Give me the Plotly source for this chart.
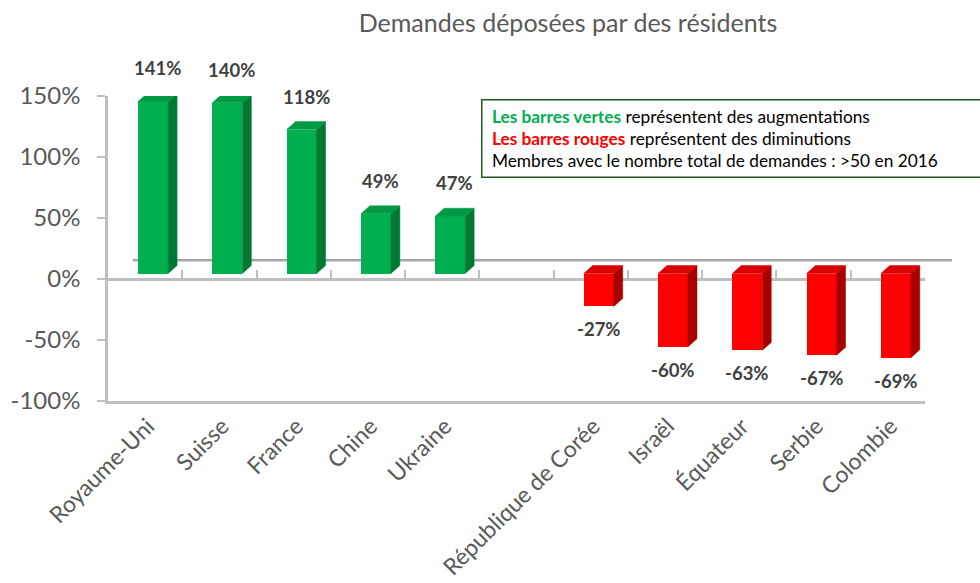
import plotly.graph_objects as go

categories = ["Royaume-Uni", "Suisse", "France", "Chine", "Ukraine",
              "République de Corée", "Israël", "Équateur", "Serbie", "Colombie"]
values = [141, 140, 118, 49, 47, -27, -60, -63, -67, -69]
y_ticks = [-100, -50, 0, 50, 100, 150]
y_ticktext = ["-100%", "-50%", "0%", "50%", "100%", "150%"]

FONT = "Lato"
GREEN, GREEN_SIDE, GREEN_TOP = "#00b050", "#007a33", "#009a44"
RED, RED_SIDE, RED_TOP = "#ff0000", "#a80000", "#d80000"
AXIS = "#bfbfbf"
TXT = "#595959"

# layout helpers (style, not data)
OFF = 0.107      # front face offset within category
W = 0.404        # front face width
DX = 0.121       # depth in x (category units)
DY = 6.5         # depth in y (percent units)
BASE = 4.5       # front-face base lift (3D perspective)
LBL = -0.07      # tick label offset

pos = [i if i < 5 else i + 1 for i in range(len(categories))]
centers = [p + OFF for p in pos]
front_cols = [GREEN if v >= 0 else RED for v in values]

fig = go.Figure()

def faces(sign):
    sx, sy, tx, ty = [], [], [], []
    for c, v in zip(centers, values):
        if (v >= 0) != sign:
            continue
        xl, xr = c - W / 2, c + W / 2
        y0, y1 = BASE, BASE + v
        sx += [xr, xr, xr + DX, xr + DX, xr, None]
        sy += [y0, y1, y1 + DY, y0 + DY, y0, None]
        yt = max(y0, y1)
        tx += [xl, xr, xr + DX, xl + DX, xl, None]
        ty += [yt, yt, yt + DY, yt + DY, yt, None]
    return sx, sy, tx, ty

for sign, sc, tc in [(True, GREEN_SIDE, GREEN_TOP), (False, RED_SIDE, RED_TOP)]:
    sx, sy, tx, ty = faces(sign)
    fig.add_trace(go.Scatter(x=sx, y=sy, mode="lines", fill="toself", fillcolor=sc,
                             line=dict(width=0.5, color=sc), hoverinfo="skip", showlegend=False))
    fig.add_trace(go.Scatter(x=tx, y=ty, mode="lines", fill="toself", fillcolor=tc,
                             line=dict(width=0.5, color=tc), hoverinfo="skip", showlegend=False))

fig.add_trace(go.Bar(x=centers, y=values, base=BASE, width=W,
                     marker=dict(color=front_cols, line=dict(width=0)),
                     showlegend=False, hovertext=categories))

fig.add_trace(go.Scatter(x=[None], y=[None], xaxis="x2", showlegend=False))

annotations = []
for c, v in zip(centers, values):
    if v >= 0:
        annotations.append(dict(x=c + DX / 2, y=BASE + v, xref="x", yref="y",
                                text=f"<b>{v}%</b>", showarrow=False, yanchor="bottom",
                                yshift=20, font=dict(family=FONT, size=18.5, color="#404040")))
    else:
        annotations.append(dict(x=c, y=BASE + v, xref="x", yref="y",
                                text=f"<b>{v}%</b>", showarrow=False, yanchor="top",
                                yshift=-10, font=dict(family=FONT, size=18.5, color="#404040")))

legend_text = ("&nbsp;<span style='color:#00b050'><b>Les barres vertes</b></span> représentent des augmentations<br>"
               "&nbsp;<span style='color:#ff0000'><b>Les barres rouges</b></span> représentent des diminutions<br>"
               "&nbsp;Membres avec le nombre total de demandes : >50 en 2016")
annotations.append(dict(x=(481 - 108) / 817, y=(401 - 99) / 305, xref="paper", yref="paper",
                        xanchor="left", yanchor="top", align="left", showarrow=False,
                        text=legend_text, bgcolor="white", bordercolor="#1e5a1e", borderwidth=1.5,
                        borderpad=5, width=500,
                        font=dict(family=FONT, size=17.3, color="#000000")))

shapes = [dict(type="line", xref="paper", yref="y", x0=25 / 817, x1=844 / 817,
               y0=15.3, y1=15.3, line=dict(color="#a6a6a6", width=2.5), layer="below")]

fig.update_layout(
    width=980, height=583,
    margin=dict(l=108, r=55, t=96, b=182),
    paper_bgcolor="white", plot_bgcolor="white",
    title=dict(text="Demandes déposées par des résidents", x=568 / 980, xanchor="center",
               y=1 - 23 / 583, yanchor="middle", yref="container",
               font=dict(family=FONT, size=25, color=TXT)),
    xaxis=dict(range=[-0.5, 10.5], tickvals=[c + LBL for c in centers], ticktext=categories,
               tickangle=-45, automargin=False,
               showline=True, linecolor=AXIS, linewidth=2.5, ticks="", showgrid=False,
               zeroline=False, tickfont=dict(family=FONT, size=23, color=TXT)),
    xaxis2=dict(range=[-0.5, 10.5], overlaying="x", anchor="free", position=0.4,
                side="bottom", showline=True, linecolor=AXIS, linewidth=2.5, automargin=False,
                ticks="inside", ticklen=8, tickwidth=1.5, tickcolor=AXIS,
                tickvals=[i - 0.5 for i in range(12)], showticklabels=False,
                showgrid=False, zeroline=False, layer="below traces"),
    yaxis=dict(range=[-100, 150], tickvals=y_ticks, ticktext=y_ticktext, automargin=False,
               showline=True, linecolor=AXIS, linewidth=2.5, ticks="outside", ticklen=8,
               tickcolor=AXIS, tickwidth=1.5, showgrid=False, zeroline=False,
               ticklabelstandoff=12,
               tickfont=dict(family=FONT, size=24, color=TXT)),
    annotations=annotations, shapes=shapes, bargap=0,
)

fig.write_html("out.html", config={"displayModeBar": False},
               post_script="document.body.style.margin='0';document.body.style.overflow='hidden';")
